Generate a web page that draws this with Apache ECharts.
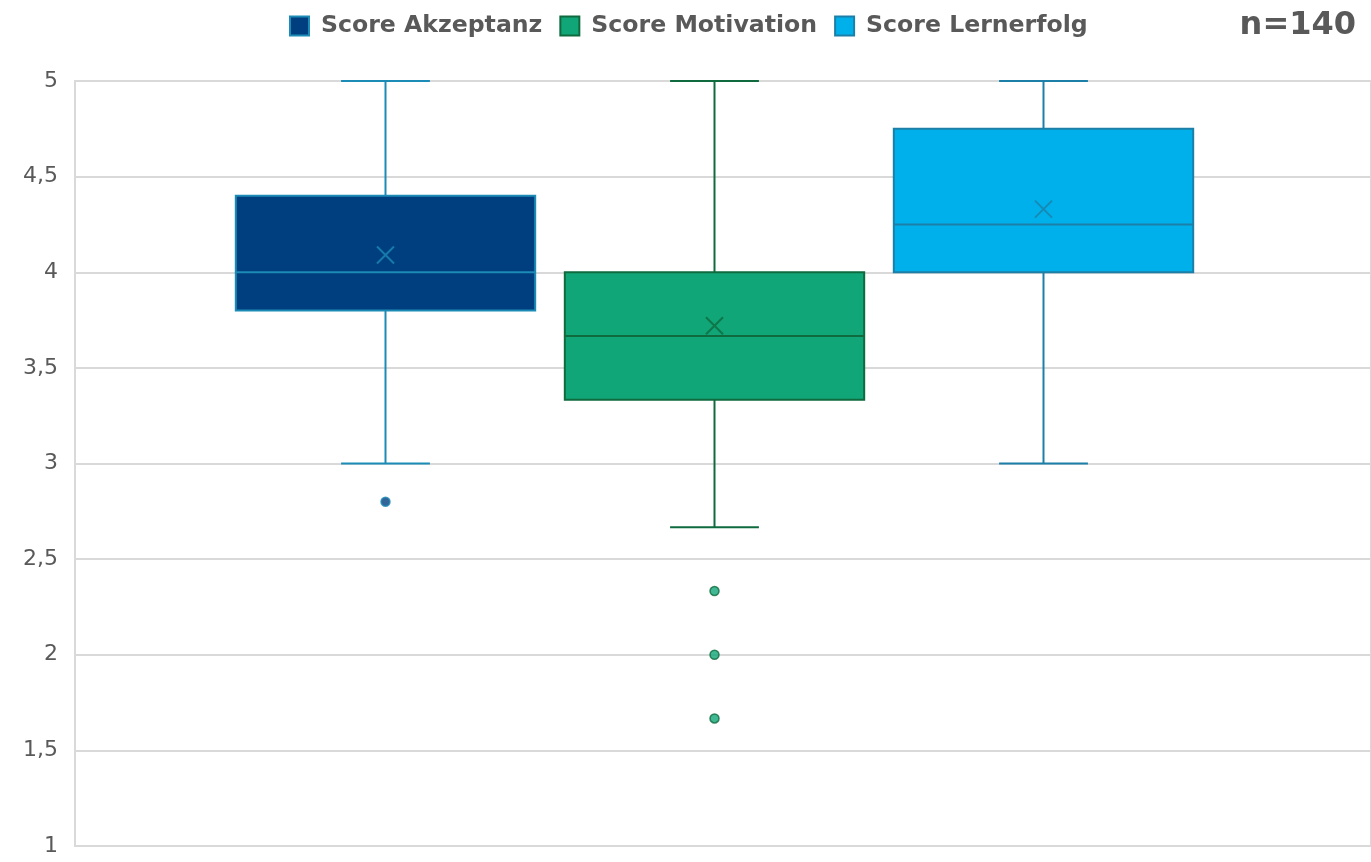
<!DOCTYPE html>
<html>
<head>
<meta charset="utf-8">
<script src="https://cdn.jsdelivr.net/npm/echarts@6/dist/echarts.min.js"></script>
<style>html,body{margin:0;padding:0;background:#fff;}#main{width:1371px;height:862px;}</style>
</head>
<body>
<div id="main"></div>
<script>
// ---- data ----
const categories = ['Score Akzeptanz', 'Score Motivation', 'Score Lernerfolg'];
// [min (lower whisker), Q1, median, Q3, max (upper whisker)]
const statsAkzeptanz = [3.0, 3.8, 4.0, 4.4, 5.0];
const statsMotivation = [2.667, 3.333, 3.667, 4.0, 5.0];
const statsLernerfolg = [3.0, 4.0, 4.25, 4.75, 5.0];
const means = [4.09, 3.72, 4.33];
const outliersAkzeptanz = [2.8];
const outliersMotivation = [2.333, 2.0, 1.667];
const outliersLernerfolg = [];
const yTicks = [1, 1.5, 2, 2.5, 3, 3.5, 4, 4.5, 5];
const sampleLabel = 'n=140';

// ---- styles ----
const fills = ['#003F7F', '#10A678', '#00B0EB'];
const strokes = ['#1C8BB5', '#0F6B3E', '#1C7FA8'];
const FONT = 'DejaVu Sans';
const allStats = [statsAkzeptanz, statsMotivation, statsLernerfolg];
const allOutliers = [outliersAkzeptanz, outliersMotivation, outliersLernerfolg];

const chart = echarts.init(document.getElementById('main'), null, {renderer: 'canvas'});

function boxRender(params, api) {
  const x = api.value(0);
  const band = api.size([1, 0])[0];
  const bw = band * 0.91;
  const cw = band * 0.27;
  const pMin = api.coord([x, api.value(1)]);
  const pQ1 = api.coord([x, api.value(2)]);
  const pMed = api.coord([x, api.value(3)]);
  const pQ3 = api.coord([x, api.value(4)]);
  const pMax = api.coord([x, api.value(5)]);
  const cx = pMin[0];
  const i = params.seriesIndex;
  const ls = {stroke: strokes[i], lineWidth: 2};
  return {
    type: 'group',
    children: [
      {type: 'line', shape: {x1: cx, y1: pMin[1], x2: cx, y2: pQ1[1]}, style: ls},
      {type: 'line', shape: {x1: cx, y1: pQ3[1], x2: cx, y2: pMax[1]}, style: ls},
      {type: 'line', shape: {x1: cx - cw / 2, y1: pMin[1], x2: cx + cw / 2, y2: pMin[1]}, style: ls},
      {type: 'line', shape: {x1: cx - cw / 2, y1: pMax[1], x2: cx + cw / 2, y2: pMax[1]}, style: ls},
      {type: 'rect', shape: {x: cx - bw / 2, y: pQ3[1], width: bw, height: pQ1[1] - pQ3[1]},
        style: {fill: fills[i], stroke: strokes[i], lineWidth: 2}},
      {type: 'line', shape: {x1: cx - bw / 2, y1: pMed[1], x2: cx + bw / 2, y2: pMed[1]}, style: ls}
    ]
  };
}

const series = [];
categories.forEach((name, i) => {
  series.push({
    name: name, type: 'custom', xAxisIndex: 1, yAxisIndex: 1,
    renderItem: boxRender,
    encode: {x: 0, y: [1, 2, 3, 4, 5]},
    itemStyle: {color: fills[i], borderColor: strokes[i]},
    data: [[i].concat(allStats[i])],
    z: 3
  });
});
categories.forEach((name, i) => {
  series.push({
    name: name, type: 'scatter', xAxisIndex: 1, yAxisIndex: 1,
    symbol: 'path://M0,0L10,10M10,0L0,10', symbolSize: 17,
    itemStyle: {color: 'none', borderColor: strokes[i], borderWidth: 2},
    data: [[i, means[i]]], z: 5, silent: true
  });
  series.push({
    name: name, type: 'scatter', xAxisIndex: 1, yAxisIndex: 1,
    symbol: 'circle', symbolSize: 9,
    itemStyle: {color: fills[i], borderColor: strokes[i], borderWidth: 1.5},
    data: allOutliers[i].map(v => [i, v]), z: 5, silent: true
  });
});

chart.setOption({
  animation: false,
  textStyle: {fontFamily: FONT},
  title: {
    text: sampleLabel, right: 10, top: 5,
    textStyle: {fontFamily: FONT, fontSize: 32, fontWeight: 'bold', color: '#595959'}
  },
  legend: {
    left: 289, top: 14, padding: 0,
    itemWidth: 19, itemHeight: 19, itemGap: 17,
    textStyle: {fontFamily: FONT, fontSize: 23.6, fontWeight: 'bold', color: '#595959', padding: [0, 0, 0, 7]},
    data: categories.map((name, i) => ({
      name: name, icon: 'rect',
      itemStyle: {color: fills[i], borderColor: strokes[i], borderWidth: 2}
    }))
  },
  grid: [
    {left: 75, right: 0, top: 81, bottom: 16, show: true, borderColor: '#d9d9d9', borderWidth: 2},
    {left: 221, width: 987, top: 81, bottom: 16}
  ],
  xAxis: [
    {gridIndex: 0, type: 'category', data: [''], axisLine: {show: true, lineStyle: {color: '#d9d9d9', width: 2}},
      axisTick: {show: false}, axisLabel: {show: false}},
    {gridIndex: 1, type: 'category', data: categories, show: false}
  ],
  yAxis: [
    {gridIndex: 0, type: 'value', min: 1, max: 5, interval: 0.5,
      axisLine: {show: true, lineStyle: {color: '#d9d9d9', width: 2}},
      axisTick: {show: false},
      splitLine: {show: true, lineStyle: {color: '#d9d9d9', width: 2}},
      axisLabel: {fontFamily: FONT, fontSize: 22, color: '#595959', margin: 17,
        formatter: v => (yTicks.indexOf(v) >= 0 ? String(v).replace('.', ',') : '')}},
    {gridIndex: 1, type: 'value', min: 1, max: 5, show: false}
  ],
  series: series
});
</script>
</body>
</html>
